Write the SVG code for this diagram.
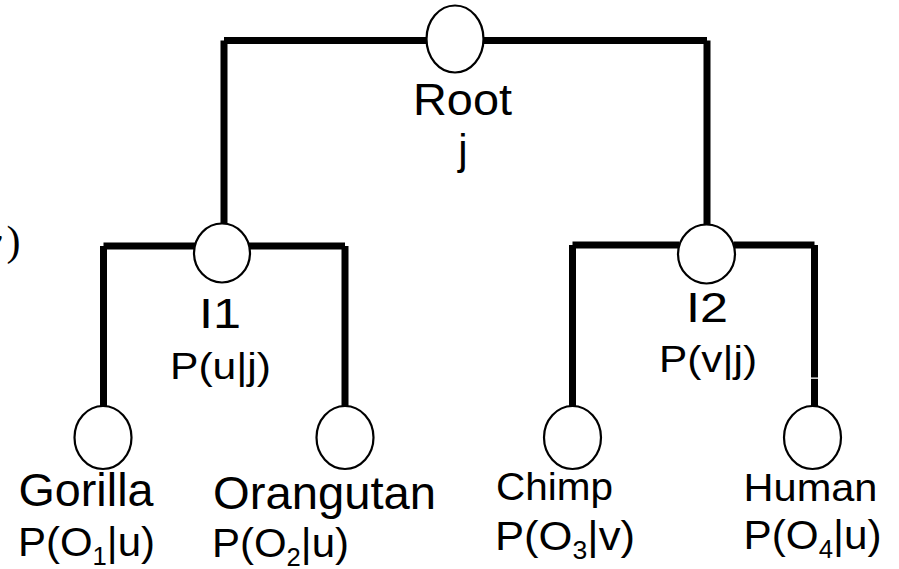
<svg xmlns="http://www.w3.org/2000/svg" width="899" height="569" viewBox="0 0 899 569">
<style>
.edge{stroke:#000;stroke-width:7;stroke-linecap:butt;fill:none}
.node{fill:#fff;stroke:#000;stroke-width:2.2}
text{font-family:"Liberation Sans",Arial,sans-serif;fill:#000}
.sub{font-size:25px}
</style>
<rect width="899" height="569" fill="#fff"/>
<text y="255" style="font-family:'Liberation Serif','Times New Roman',serif" font-size="42"><tspan x="-17" font-style="italic">v</tspan><tspan x="6.5">)</tspan></text>
<g id="connectors">
<line class="edge" x1="224" y1="40.5" x2="427" y2="40.5"/>
<line class="edge" x1="224" y1="40.5" x2="224" y2="226"/>
<line class="edge" x1="483" y1="40.5" x2="707" y2="40.5"/>
<line class="edge" x1="707" y1="40.5" x2="707" y2="224"/>
<line class="edge" x1="103.5" y1="246" x2="195" y2="246"/>
<line class="edge" x1="103.5" y1="246" x2="103.5" y2="406"/>
<line class="edge" x1="249" y1="246" x2="345" y2="246"/>
<line class="edge" x1="345" y1="246" x2="345" y2="406"/>
<line class="edge" x1="572.5" y1="245" x2="679" y2="245"/>
<line class="edge" x1="572.5" y1="245" x2="572.5" y2="406"/>
<line class="edge" x1="734" y1="245" x2="814.5" y2="245"/>
<line class="edge" x1="814.5" y1="245" x2="814.5" y2="377.6"/>
<line class="edge" x1="814.5" y1="378.8" x2="814.5" y2="406"/>
</g>
<g id="root">
<ellipse class="node" cx="455" cy="39" rx="28.5" ry="33.5"/>
<text x="413" y="115" font-size="45" textLength="99" lengthAdjust="spacingAndGlyphs">Root</text>
<text x="463" y="164" font-size="42" text-anchor="middle">j</text>
</g>
<g id="I1">
<ellipse class="node" cx="222" cy="253" rx="28" ry="29.5"/>
<text x="199" y="328" font-size="43" textLength="42" lengthAdjust="spacingAndGlyphs">I1</text>
<text x="170" y="379" font-size="36" textLength="101" lengthAdjust="spacingAndGlyphs">P(u|j)</text>
</g>
<g id="I2">
<ellipse class="node" cx="706.5" cy="254" rx="28.5" ry="29.5"/>
<text x="686" y="321.5" font-size="43" textLength="42" lengthAdjust="spacingAndGlyphs">I2</text>
<text x="659" y="372" font-size="36" textLength="98" lengthAdjust="spacingAndGlyphs">P(v|j)</text>
</g>
<g id="gorilla">
<ellipse class="node" cx="103" cy="437.5" rx="28.5" ry="31.5"/>
<text x="18.5" y="506" font-size="46" textLength="135" lengthAdjust="spacingAndGlyphs">Gorilla</text>
<text x="18" y="556" font-size="41" textLength="137" lengthAdjust="spacingAndGlyphs">P(O<tspan class="sub" dy="9">1</tspan><tspan dy="-9">|u)</tspan></text>
</g>
<g id="orangutan">
<ellipse class="node" cx="345" cy="437.5" rx="28.5" ry="31.5"/>
<text x="213" y="509" font-size="46" textLength="223" lengthAdjust="spacingAndGlyphs">Orangutan</text>
<text x="212" y="557" font-size="41" textLength="137" lengthAdjust="spacingAndGlyphs">P(O<tspan class="sub" dy="9">2</tspan><tspan dy="-9">|u)</tspan></text>
</g>
<g id="chimp">
<ellipse class="node" cx="572.5" cy="437.5" rx="28.5" ry="31.5"/>
<text x="496" y="500" font-size="39" textLength="117" lengthAdjust="spacingAndGlyphs">Chimp</text>
<text x="495" y="550" font-size="41" textLength="140" lengthAdjust="spacingAndGlyphs">P(O<tspan class="sub" dy="9">3</tspan><tspan dy="-9">|v)</tspan></text>
</g>
<g id="human">
<ellipse class="node" cx="812.5" cy="437.5" rx="28.5" ry="31.5"/>
<text x="743.5" y="500.5" font-size="39" textLength="134" lengthAdjust="spacingAndGlyphs">Human</text>
<text x="743.5" y="548.5" font-size="41" textLength="138" lengthAdjust="spacingAndGlyphs">P(O<tspan class="sub" dy="9">4</tspan><tspan dy="-9">|u)</tspan></text>
</g>
</svg>
